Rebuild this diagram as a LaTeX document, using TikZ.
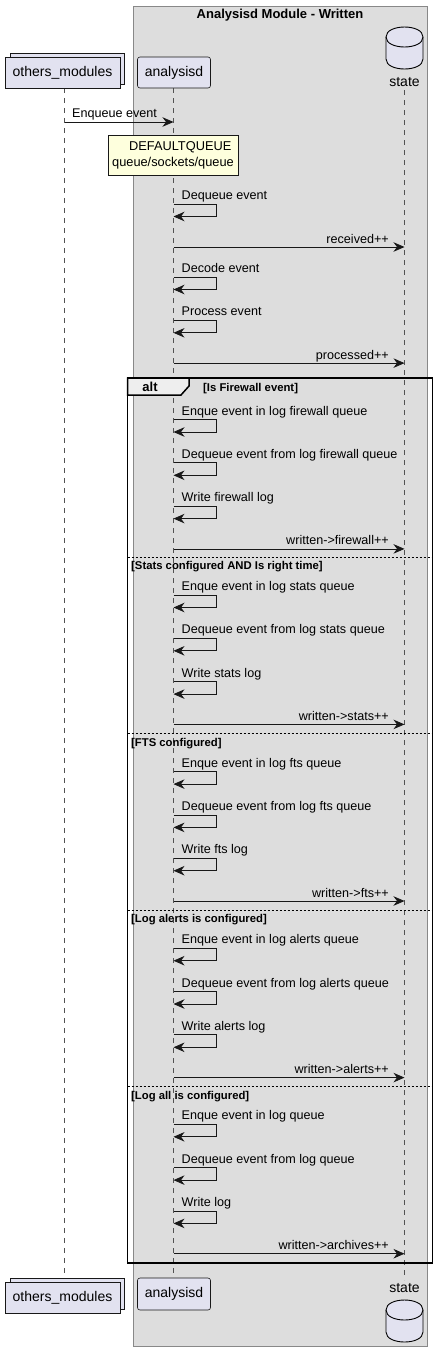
\documentclass[tikz,border=0pt]{standalone}
\usepackage{fontspec}
\setmainfont{Liberation Sans}
\usetikzlibrary{arrows.meta,calc}
\definecolor{partfill}{HTML}{E2E2F0}
\definecolor{boxfill}{HTML}{DDDDDD}
\definecolor{boxedge}{HTML}{888888}
\definecolor{notefill}{HTML}{FEFFDD}
\definecolor{edge}{HTML}{181818}
\definecolor{tabfill}{HTML}{EEEEEE}
\newcommand\fsz[1]{\fontsize{#1}{#1}\selectfont}
\newcommand\selfmsg[2]{%
  \node[lbl, anchor=base west] at (181.5,#1+4.5) {#2};
  \draw[msg] ($(la)+(0,#1+9)$) -- ++(42.5,0) -- ++(0,12.5) -- ($(la)+(0,#1+21.5)$);
}
\newcommand\statemsg[2]{%
  \node[lbl, anchor=base east] at (389,#1+4.5) {#2};
  \draw[msg] ($(la)+(0,#1+8.5)$) -- ($(ls)+(0,#1+8.5)$);
}
\newcommand\dbsymbol[2]{% x left, y top
  \draw[dbshape] (#1,#2+10) .. controls (#1,#2-3.33) and (#1+37,#2-3.33) .. (#1+37,#2+10)
     -- (#1+37,#2+32) .. controls (#1+37,#2+45.33) and (#1,#2+45.33) .. (#1,#2+32) -- cycle;
  \draw[dbshape, fill=none] (#1,#2+10) .. controls (#1,#2+23.33) and (#1+37,#2+23.33) .. (#1+37,#2+10);
}
\begin{document}
\begin{tikzpicture}[x=1pt,y=-1pt,
  part/.style={draw=edge, line width=0.6pt, fill=partfill, inner sep=0pt, font=\fsz{14}},
  lbl/.style={inner sep=0pt, font=\fsz{12.6}},
  guard/.style={inner sep=0pt, font=\bfseries\fsz{11.3}, anchor=base west},
  msg/.style={draw=edge, line width=0.8pt, -{Stealth[length=11pt,width=9.5pt,inset=3.5pt]}},
  life/.style={draw=edge!75, line width=0.6pt, dash pattern=on 5pt off 5pt},
  sep/.style={draw=black, line width=0.8pt, dash pattern=on 2pt off 2pt},
  dbshape/.style={draw=black, line width=0.9pt, fill=partfill},
]
\useasboundingbox (0,0) rectangle (439,1358);
\fill[white] (0,0) rectangle (439,1358);

% module box
\node[draw=boxedge, line width=0.8pt, fill=boxfill, minimum width=294pt, minimum height=1340pt, inner sep=0pt, anchor=north west] (box) at (133,6) {};
\node[inner sep=0pt, font=\bfseries\fsz{13}] (title) at (280,15) {Analysisd Module - Written};

% lifeline coordinates
\coordinate (lo) at (64.5,0);
\coordinate (la) at (173.5,0);
\coordinate (ls) at (404.5,0);

\draw[life] ($(lo)+(0,88)$) -- ($(lo)+(0,1278)$);
\draw[life] ($(la)+(0,88)$) -- ($(la)+(0,1278)$);
\draw[life] ($(ls)+(0,90)$) -- ($(ls)+(0,1280)$);

% top participants
\node[part, minimum width=114pt, minimum height=31pt] (omshadow) at (67,68.5) {};
\node[part, minimum width=115pt, minimum height=31pt] (om) at (62.5,72.5) {others\_modules};
\node[part, rounded corners=2.5pt, minimum width=73pt, minimum height=31pt] (an) at (174,72.5) {analysisd};
\dbsymbol{386}{27}
\node[inner sep=0pt, font=\fsz{14}] (st) at (404.5,82.5) {state};

% enqueue
\node[lbl, anchor=base west] (enqlbl) at (72,117.5) {Enqueue event};
\draw[msg] ($(lo)+(0,122)$) -- ($(la)+(0,122)$);

% note
\node[draw=edge, line width=0.6pt, fill=notefill, align=left, inner xsep=4pt, inner ysep=0pt,
      minimum height=40pt, font=\fontsize{12.8}{16}\selectfont] (note) at (173,155)
      {\hspace*{17pt}DEFAULTQUEUE\\queue/sockets/queue};

\selfmsg{195}{Dequeue event}
\statemsg{238.5}{received++}
\selfmsg{268}{Decode event}
\selfmsg{311.3}{Process event}
\statemsg{354.6}{processed++}

% alt frame
\draw[line width=1.5pt, fill=tabfill] (127.5,378) -- (189,378) -- (189,386) -- (181,395) -- (127.5,395) -- cycle;
\node[inner sep=0pt, font=\bfseries\fsz{13}] (alt) at (150,387) {alt};
\draw[line width=1.5pt] (127.5,378) rectangle (432.5,1263);
\node[guard] (g1) at (203,391) {[Is Firewall event]};

\selfmsg{410.5}{Enque event in log firewall queue}
\selfmsg{453.8}{Dequeue event from log firewall queue}
\selfmsg{497.1}{Write firewall log}
\statemsg{540.4}{written->firewall++}

\draw[sep] (127.5,557) -- (432.5,557);
\node[guard] (g2) at (131,569.5) {[Stats configured AND Is right time]};
\selfmsg{586}{Enque event in log stats queue}
\selfmsg{629.3}{Dequeue event from log stats queue}
\selfmsg{672.6}{Write stats log}
\statemsg{715.9}{written->stats++}

\draw[sep] (127.5,733.6) -- (432.5,733.6);
\node[guard] (g3) at (131,746.1) {[FTS configured]};
\selfmsg{762.6}{Enque event in log fts queue}
\selfmsg{805.9}{Dequeue event from log fts queue}
\selfmsg{849.2}{Write fts log}
\statemsg{892.5}{written->fts++}

\draw[sep] (127.5,910.2) -- (432.5,910.2);
\node[guard] (g4) at (131,922.7) {[Log alerts is configured]};
\selfmsg{939.2}{Enque event in log alerts queue}
\selfmsg{982.5}{Dequeue event from log alerts queue}
\selfmsg{1025.8}{Write alerts log}
\statemsg{1069.1}{written->alerts++}

\draw[sep] (127.5,1086.8) -- (432.5,1086.8);
\node[guard] (g5) at (131,1099.3) {[Log all is configured]};
\selfmsg{1115.3}{Enque event in log queue}
\selfmsg{1158.6}{Dequeue event from log queue}
\selfmsg{1201.9}{Write log}
\statemsg{1245.2}{written->archives++}

% bottom participants
\node[part, minimum width=114pt, minimum height=31pt] (omshadow2) at (67,1293.5) {};
\node[part, minimum width=115pt, minimum height=31pt] (om2) at (62.5,1297.5) {others\_modules};
\node[part, rounded corners=2.5pt, minimum width=73pt, minimum height=32pt] (an2) at (174,1294) {analysisd};
\node[inner sep=0pt, font=\fsz{14}] (st2) at (404.5,1288) {state};
\dbsymbol{386}{1300}
\end{tikzpicture}
\end{document}
